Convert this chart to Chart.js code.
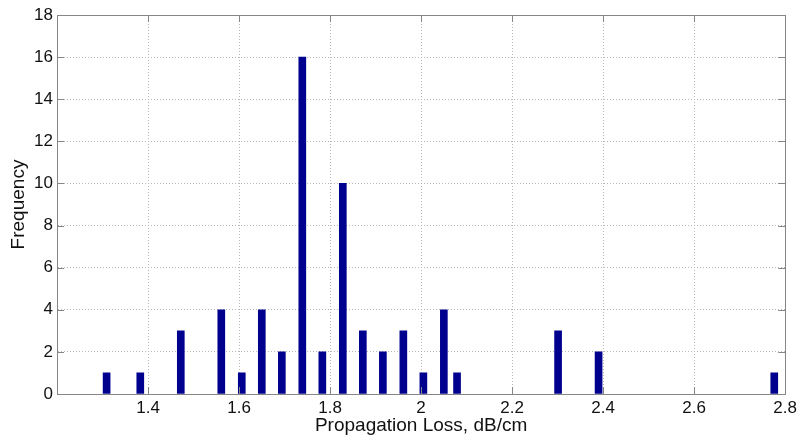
<!DOCTYPE html>
<html><head><meta charset="utf-8">
<script src="https://cdn.jsdelivr.net/npm/chart.js@4.4.1/dist/chart.umd.min.js"></script>
<style>html,body{margin:0;padding:0;background:#fff}#wrap{width:801px;height:437px}</style>
</head><body><div id="wrap"><canvas id="c" width="801" height="437"></canvas></div>
<script>
const lossValues = [1.309,1.383,1.472,1.561,1.606,1.650,1.694,1.739,1.783,1.828,1.872,1.916,1.961,2.005,2.050,2.079,2.301,2.390,2.776];
const frequencies = [1,1,3,4,1,4,2,16,2,10,3,2,3,1,4,1,3,2,1];
const xTicks = [1.4,1.6,1.8,2,2.2,2.4,2.6,2.8];
const yTicks = [0,2,4,6,8,10,12,14,16,18];
const xRange = [1.2, 2.8];
const yRange = [0, 18];
const xTitle = 'Propagation Loss, dB/cm';
const yTitle = 'Frequency';

const FONT = "'Liberation Sans', Arial, sans-serif";
const AXIS_COLOR = '#868686';

const boxTicks = {
  id: 'boxTicks',
  afterDatasetsDraw(chart) {
    const {ctx, chartArea: a, scales: {x, y}} = chart;
    const L = 7;
    ctx.save();
    ctx.strokeStyle = AXIS_COLOR;
    ctx.lineWidth = 1;
    ctx.setLineDash([]);
    ctx.beginPath();
    xTicks.forEach(v => {
      const px = Math.round(x.getPixelForValue(v)) + 0.5;
      ctx.moveTo(px, a.bottom); ctx.lineTo(px, a.bottom - L);
      ctx.moveTo(px, a.top); ctx.lineTo(px, a.top + L);
    });
    yTicks.forEach(v => {
      const py = Math.round(y.getPixelForValue(v)) + 0.5;
      ctx.moveTo(a.left, py); ctx.lineTo(a.left + L, py);
      ctx.moveTo(a.right, py); ctx.lineTo(a.right - L, py);
    });
    ctx.stroke();
    ctx.beginPath();
    ctx.rect(Math.round(a.left) + 0.5, Math.round(a.top) + 0.5, Math.round(a.right - a.left), Math.round(a.bottom - a.top));
    ctx.stroke();
    ctx.restore();
  }
};

new Chart(document.getElementById('c'), {
  type: 'bar',
  data: {
    datasets: [{
      data: lossValues.map((v, i) => ({x: v, y: frequencies[i]})),
      backgroundColor: '#00008f',
      borderWidth: 0,
      barThickness: 7
    }]
  },
  options: {
    responsive: false,
    animation: false,
    devicePixelRatio: 1,
    layout: {padding: {left: 0, top: 15, right: 15, bottom: 0}},
    plugins: {legend: {display: false}, tooltip: {enabled: false}},
    scales: {
      x: {
        type: 'linear',
        offset: false,
        min: xRange[0], max: xRange[1],
        afterBuildTicks: s => { s.ticks = xTicks.map(v => ({value: v})); },
        afterFit: s => { s.height = 43; },
        ticks: {color: '#111', font: {family: FONT, size: 17}, padding: 4,
                callback: v => String(+v.toFixed(1)), maxRotation: 0, autoSkip: false},
        grid: {offset: false, color: '#b8b8b8', drawTicks: false},
        border: {display: true, color: AXIS_COLOR, dash: [1, 2]},
        title: {display: true, text: xTitle, color: '#111', font: {family: FONT, size: 19}, padding: {top: 0, bottom: 0}}
      },
      y: {
        min: yRange[0], max: yRange[1],
        afterBuildTicks: s => { s.ticks = yTicks.map(v => ({value: v})); },
        afterFit: s => { s.width = 57; },
        ticks: {color: '#111', font: {family: FONT, size: 17}, padding: 4, autoSkip: false},
        grid: {color: '#b8b8b8', drawTicks: false},
        border: {display: true, color: AXIS_COLOR, dash: [1, 2]},
        title: {display: true, text: yTitle, color: '#111', font: {family: FONT, size: 19}, padding: {top: 7, bottom: 0}}
      }
    }
  },
  plugins: [boxTicks]
});
</script></body></html>
